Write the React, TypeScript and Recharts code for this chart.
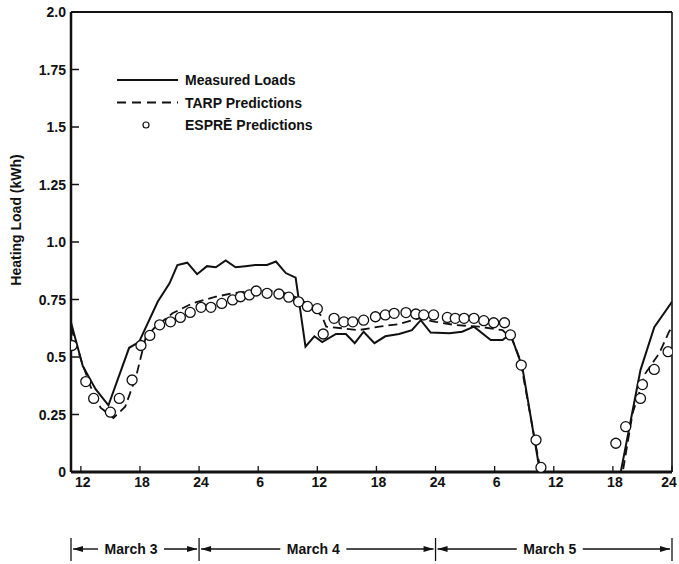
import {
  ComposedChart,
  Line,
  Scatter,
  XAxis,
  YAxis,
  Legend,
  ReferenceLine,
} from "recharts";

// hours counted from midnight starting March 3 (24 = midnight Mar 3/4, 48 = Mar 4/5, 72 = end Mar 5)
const measuredHours = [
  11, 12.2, 13.5, 14.8, 16.9, 17.9, 19.8, 21.0, 21.8, 22.8, 23.8, 24.8, 25.7, 26.7, 27.7, 28.7,
  29.7, 30.9, 31.8, 32.8, 33.8, 34.8, 35.7, 36.5, 37.9, 38.9, 39.8, 40.7, 41.8, 42.9, 44.3, 45.6,
  46.5, 47.5, 49.4, 50.7, 51.9, 53.6, 54.8, 55.6, 56.8, 58.6, 66.8, 68.8, 70.2, 72,
];
const measuredLoad = [
  0.65, 0.46, 0.36, 0.29, 0.54, 0.565, 0.74, 0.82, 0.9, 0.91, 0.86, 0.895, 0.89, 0.92, 0.89, 0.895,
  0.9, 0.9, 0.915, 0.865, 0.845, 0.545, 0.59, 0.565, 0.6, 0.6, 0.56, 0.61, 0.56, 0.59, 0.6, 0.617,
  0.66, 0.606, 0.603, 0.61, 0.632, 0.574, 0.574, 0.6, 0.458, 0, 0, 0.443, 0.63, 0.74,
];

const tarpHours = [
  11, 12, 13, 14, 15.3, 16.5, 17.6, 18.6, 19.6, 21.3, 23.3, 25.7, 27.4, 28.7, 30.8, 32.8, 34.1,
  35.5, 36.5, 36.9, 38.5, 40.2, 42.3, 44.3, 46.3, 48.0, 50.0, 52.4, 54.8, 55.8, 56.6, 58.2, 58.7,
  67.0, 68.0, 69.3, 70.7, 71.7, 72,
];
const tarpLoad = [
  0.63, 0.49, 0.37, 0.28, 0.235, 0.284, 0.414, 0.588, 0.632, 0.69, 0.733, 0.762, 0.777, 0.784,
  0.79, 0.777, 0.755, 0.72, 0.675, 0.632, 0.625, 0.617, 0.632, 0.643, 0.668, 0.653, 0.639, 0.632,
  0.617, 0.574, 0.487, 0.11, 0, 0, 0.255, 0.429, 0.516, 0.61, 0.63,
];

const esprHours = [
  11.1, 12.5, 13.3, 15.0, 15.9, 17.2, 18.1, 19.0, 20.0, 21.1, 22.1, 23.1, 24.2, 25.2, 26.3, 27.4,
  28.2, 29.1, 29.8, 30.9, 32.1, 33.1, 34.1, 35.0, 36.0, 36.6, 37.7, 38.7, 39.6, 40.7, 41.9, 42.9,
  43.8, 45.0, 46.0, 46.8, 47.8, 49.2, 50.0, 50.9, 51.9, 52.9, 53.9, 55.0, 55.6, 56.7, 58.2, 58.7,
  66.3, 67.3, 68.8, 69.0, 70.2, 71.6,
];
const esprLoad = [
  0.55, 0.393, 0.32, 0.26, 0.32, 0.4, 0.55, 0.594, 0.64, 0.653, 0.672, 0.694, 0.716, 0.716, 0.733,
  0.748, 0.762, 0.77, 0.787, 0.777, 0.774, 0.76, 0.74, 0.72, 0.71, 0.6, 0.668, 0.653, 0.653, 0.66,
  0.675, 0.683, 0.69, 0.693, 0.687, 0.683, 0.683, 0.672, 0.668, 0.668, 0.668, 0.658, 0.649, 0.649,
  0.596, 0.465, 0.139, 0.02, 0.125, 0.197, 0.32, 0.38, 0.446, 0.523,
];

const xTicks = [12, 18, 24, 30, 36, 42, 48, 54, 60, 66, 72];
const yTicks = [0, 0.25, 0.5, 0.75, 1, 1.25, 1.5, 1.75, 2];
const days = ["March 3", "March 4", "March 5"];
const dayBounds = [11, 24, 48, 72];
const legendItems = ["Measured Loads", "TARP Predictions", "ESPRĒ Predictions"];

const toRows = (hs: number[], vs: number[]) => hs.map((h, i) => ({ h, load: vs[i] }));

const W = 679;
const H = 564;
const PLOT_L = 71;
const PLOT_R = 672;
const X_MIN = 11;
const X_MAX = 72;
const FONT = "'Liberation Sans', Arial, sans-serif";
const INK = "#111";

const xPx = (h: number) => PLOT_L + ((h - X_MIN) / (X_MAX - X_MIN)) * (PLOT_R - PLOT_L);

const fmtHour = (h: number) => (h % 24 === 0 ? "24" : String(h % 24));
const fmtLoad = (v: number) =>
  v === 0 ? "0" : Number.isInteger(v * 2) ? v.toFixed(1) : v.toFixed(2);

function XTick({ x, y, payload }: any) {
  // last label sits against the right edge, pull it in a bit
  const tx = payload.value === X_MAX ? x - 3 : x + 2;
  return (
    <g>
      <line x1={x} x2={x} y1={y - 4} y2={y - 10} stroke={INK} strokeWidth={1.3} />
      <text x={tx} y={y} dy={11} textAnchor="middle" fontSize={14} fontWeight="bold" fill={INK} fontFamily={FONT}>
        {fmtHour(payload.value)}
      </text>
    </g>
  );
}

function YTick({ x, y, payload }: any) {
  return (
    <g>
      <line x1={x + 5} x2={x + 13} y1={y} y2={y} stroke={INK} strokeWidth={1.5} />
      <text x={x} y={y} dy={5} textAnchor="end" fontSize={14} fontWeight="bold" fill={INK} fontFamily={FONT}>
        {fmtLoad(payload.value)}
      </text>
    </g>
  );
}

function Ring({ cx, cy }: any) {
  if (cx == null || cy == null) return null;
  return <circle cx={cx} cy={cy} r={5} fill="#fff" stroke={INK} strokeWidth={1.3} />;
}

function LegendBox() {
  return (
    <svg width={200} height={70} style={{ display: "block" }}>
      {legendItems.map((name, i) => {
        const y = 10 + i * 22.5;
        return (
          <g key={name}>
            {i === 0 && <line x1={0} x2={61} y1={y} y2={y} stroke={INK} strokeWidth={2} />}
            {i === 1 && (
              <line x1={0} x2={61} y1={y} y2={y} stroke={INK} strokeWidth={2} strokeDasharray="9 6" />
            )}
            {i === 2 && <circle cx={29} cy={y} r={3} fill="none" stroke={INK} strokeWidth={1.2} />}
            <text x={68} y={y + 5} fontSize={14} fontWeight="bold" fill={INK} fontFamily={FONT}>
              {name}
            </text>
          </g>
        );
      })}
    </svg>
  );
}

function DayRow() {
  const yMid = 549;
  return (
    <svg width={W} height={H} style={{ position: "absolute", left: 0, top: 0, pointerEvents: "none" }}>
      {dayBounds.map((h) => (
        <line key={h} x1={xPx(h)} x2={xPx(h)} y1={538} y2={561} stroke={INK} strokeWidth={1.3} />
      ))}
      {days.map((d, i) => {
        const a = xPx(dayBounds[i]);
        const b = xPx(dayBounds[i + 1]);
        const mid = (a + b) / 2 - 4;
        return (
          <g key={d}>
            <line x1={a + 2} x2={mid - 33} y1={yMid} y2={yMid} stroke={INK} strokeWidth={1.4} />
            <line x1={mid + 33} x2={b - 2} y1={yMid} y2={yMid} stroke={INK} strokeWidth={1.4} />
            <polygon points={`${a + 2},${yMid} ${a + 12},${yMid - 3} ${a + 12},${yMid + 3}`} fill={INK} />
            <polygon points={`${b - 2},${yMid} ${b - 12},${yMid - 3} ${b - 12},${yMid + 3}`} fill={INK} />
            <text x={mid} y={yMid + 5} textAnchor="middle" fontSize={14} fontWeight="bold" fill={INK} fontFamily={FONT}>
              {d}
            </text>
          </g>
        );
      })}
    </svg>
  );
}

export default function App() {
  return (
    <div style={{ position: "absolute", left: 0, top: 0, width: W, height: H, background: "#fff" }}>
      <ComposedChart width={W} height={H} margin={{ top: 12, right: W - PLOT_R, bottom: 62, left: 11 }}>
        <XAxis
          dataKey="h"
          type="number"
          domain={[X_MIN, X_MAX]}
          ticks={xTicks}
          allowDataOverflow
          height={30}
          tickSize={0}
          tickMargin={4}
          tick={<XTick />}
          axisLine={{ stroke: INK, strokeWidth: 3 }}
          interval={0}
        />
        <YAxis
          type="number"
          domain={[0, 2]}
          ticks={yTicks}
          width={60}
          tickSize={0}
          tickMargin={5}
          tick={<YTick />}
          interval={0}
          axisLine={{ stroke: INK, strokeWidth: 2.5 }}
          label={{
            content: () => (
              <text
                transform="translate(16,220) rotate(-90)"
                textAnchor="middle"
                dominantBaseline="central"
                fontSize={14}
                fontWeight="bold"
                fill={INK}
                fontFamily={FONT}
              >
                Heating Load (kWh)
              </text>
            ),
          }}
        />
        <ReferenceLine y={2} stroke={INK} strokeWidth={2} />
        <ReferenceLine x={72} stroke={INK} strokeWidth={1.6} />
        <Legend
          layout="vertical"
          align="center"
          verticalAlign="middle"
          content={() => <LegendBox />}
          wrapperStyle={{ left: 117, top: 70, width: 200, height: 70 }}
        />
        <Line
          data={toRows(tarpHours, tarpLoad)}
          dataKey="load"
          type="linear"
          stroke={INK}
          strokeWidth={1.8}
          strokeDasharray="9 5"
          dot={false}
          isAnimationActive={false}
        />
        <Line
          data={toRows(measuredHours, measuredLoad)}
          dataKey="load"
          type="linear"
          stroke={INK}
          strokeWidth={2}
          dot={false}
          isAnimationActive={false}
        />
        <Scatter
          data={toRows(esprHours, esprLoad)}
          dataKey="load"
          shape={<Ring />}
          isAnimationActive={false}
        />
      </ComposedChart>
      <DayRow />
    </div>
  );
}
